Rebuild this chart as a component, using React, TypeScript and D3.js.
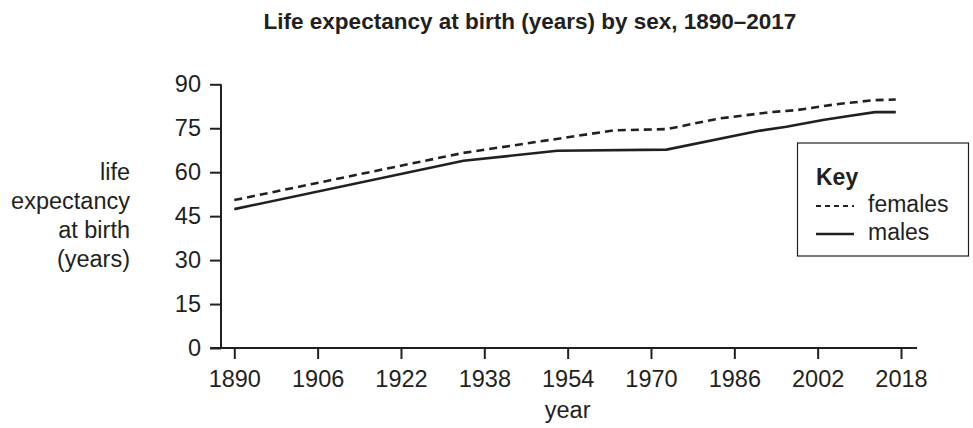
import { useRef, useEffect } from 'react';
import * as d3 from 'd3';

const title = 'Life expectancy at birth (years) by sex, 1890–2017';
const xTicks = [1890, 1906, 1922, 1938, 1954, 1970, 1986, 2002, 2018];
const yTicks = [0, 15, 30, 45, 60, 75, 90];
const yLabelLines = ['life', 'expectancy', 'at birth', '(years)'];

const femaleYears = [1890, 1934, 1963, 1973, 1983, 1993, 1998, 2006, 2013, 2017];
const femaleValues = [50.5, 66.6, 74.3, 74.7, 78.3, 80.5, 81.2, 83.3, 84.6, 84.8];

const maleYears = [1890, 1934, 1952, 1973, 1991, 1996, 2003, 2008, 2013, 2017];
const maleValues = [47.4, 63.9, 67.3, 67.7, 74.2, 75.5, 77.8, 79.2, 80.5, 80.5];

const ink = '#231f20';
const font = '"Liberation Sans", Arial, sans-serif';

function LifeChart() {
  const svgRef = useRef(null);
  const width = 973;
  const height = 428;

  useEffect(() => {
    const svg = d3.select(svgRef.current);
    svg.selectAll('*').remove();
    svg.style('font-family', font);

    const x = d3.scaleLinear().domain([1890, 2018]).range([234.3, 901]);
    const y = d3.scaleLinear().domain([0, 90]).range([348, 84.3]);

    svg
      .append('text')
      .attr('x', 530)
      .attr('y', 29)
      .attr('text-anchor', 'middle')
      .attr('fill', ink)
      .style('font-size', '22.5px')
      .style('font-weight', 700)
      .text(title);

    // x axis
    const gx = svg
      .append('g')
      .attr('transform', `translate(0,${y(0)})`)
      .call(d3.axisBottom(x).tickValues(xTicks).tickFormat(d3.format('d')).tickSize(11).tickPadding(11).tickSizeOuter(0));
    gx.select('.domain').remove();
    gx.append('line')
      .attr('x1', 210)
      .attr('x2', 917)
      .attr('stroke', ink)
      .attr('stroke-width', 2);
    gx.selectAll('.tick line').attr('stroke', ink).attr('stroke-width', 2);
    gx.selectAll('.tick text')
      .attr('fill', ink)
      .style('font-size', '23.5px')
      .style('font-family', font);

    // y axis
    const gy = svg
      .append('g')
      .attr('transform', `translate(221,0)`)
      .call(d3.axisLeft(y).tickValues(yTicks).tickSize(11).tickPadding(9).tickSizeOuter(0));
    gy.select('.domain').remove();
    gy.append('line')
      .attr('y1', y(90))
      .attr('y2', y(0))
      .attr('stroke', ink)
      .attr('stroke-width', 2);
    gy.selectAll('.tick line').attr('stroke', ink).attr('stroke-width', 2);
    gy.selectAll('.tick text')
      .attr('fill', ink)
      .style('font-size', '23.5px')
      .style('font-family', font);

    svg
      .append('text')
      .attr('x', (x(1890) + x(2018)) / 2)
      .attr('y', 418)
      .attr('text-anchor', 'middle')
      .attr('fill', ink)
      .style('font-size', '23.5px')
      .text('year');

    svg
      .append('g')
      .selectAll('text')
      .data(yLabelLines)
      .join('text')
      .attr('x', 130)
      .attr('y', (d, i) => 180 + i * 29)
      .attr('text-anchor', 'end')
      .attr('fill', ink)
      .style('font-size', '23.5px')
      .text((d) => d);

    const line = d3
      .line()
      .x((d) => x(d[0]))
      .y((d) => y(d[1]));

    svg
      .append('path')
      .datum(femaleYears.map((yr, i) => [yr, femaleValues[i]]))
      .attr('fill', 'none')
      .attr('stroke', ink)
      .attr('stroke-width', 2.6)
      .attr('stroke-dasharray', '8,5')
      .attr('d', line);

    svg
      .append('path')
      .datum(maleYears.map((yr, i) => [yr, maleValues[i]]))
      .attr('fill', 'none')
      .attr('stroke', ink)
      .attr('stroke-width', 2.6)
      .attr('d', line);

    // key
    const key = svg.append('g');
    key
      .append('rect')
      .attr('x', 797.5)
      .attr('y', 143)
      .attr('width', 171)
      .attr('height', 113)
      .attr('fill', '#fff')
      .attr('stroke', ink)
      .attr('stroke-width', 1.2);
    key
      .append('text')
      .attr('x', 816)
      .attr('y', 185)
      .attr('fill', ink)
      .style('font-size', '23px')
      .style('font-weight', 700)
      .text('Key');
    key
      .append('line')
      .attr('x1', 816)
      .attr('x2', 854)
      .attr('y1', 206)
      .attr('y2', 206)
      .attr('stroke', ink)
      .attr('stroke-width', 2)
      .attr('stroke-dasharray', '5,4');
    key
      .append('text')
      .attr('x', 868)
      .attr('y', 212)
      .attr('fill', ink)
      .style('font-size', '23px')
      .text('females');
    key
      .append('line')
      .attr('x1', 816)
      .attr('x2', 854)
      .attr('y1', 234)
      .attr('y2', 234)
      .attr('stroke', ink)
      .attr('stroke-width', 2.6);
    key
      .append('text')
      .attr('x', 868)
      .attr('y', 240)
      .attr('fill', ink)
      .style('font-size', '23px')
      .text('males');
  }, []);

  return (
    <svg
      ref={svgRef}
      width={width}
      height={height}
      style={{ position: 'absolute', left: 0, top: 0, background: '#fff' }}
    ></svg>
  );
}

export default function App() {
  return <LifeChart />;
}
